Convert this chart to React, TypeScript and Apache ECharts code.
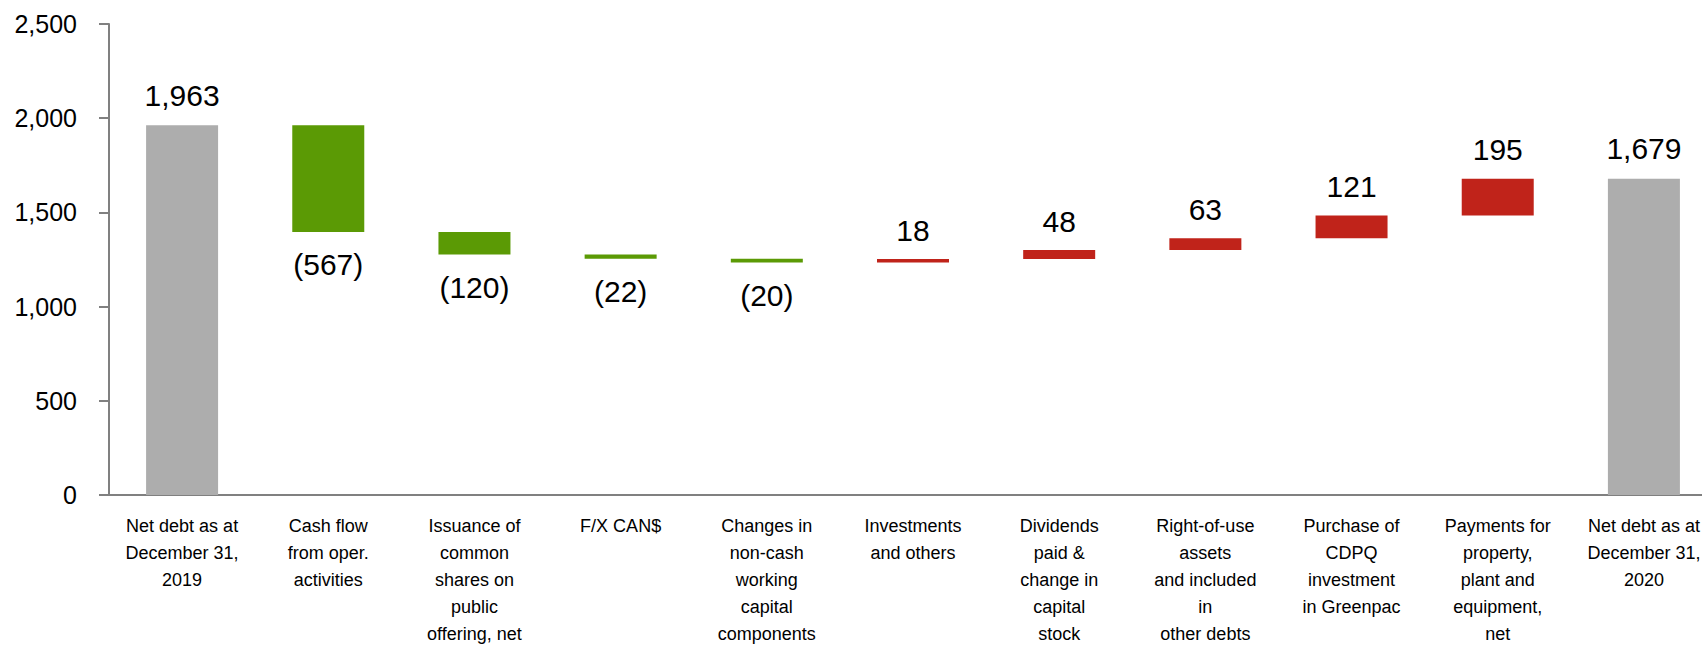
import React, { useEffect, useRef } from "react";
import * as echarts from "echarts";

const categories = [
  "Net debt as at\nDecember 31,\n2019",
  "Cash flow\nfrom oper.\nactivities",
  "Issuance of\ncommon\nshares on\npublic\noffering, net",
  "F/X CAN$",
  "Changes in\nnon-cash\nworking\ncapital\ncomponents",
  "Investments\nand others",
  "Dividends\npaid &\nchange in\ncapital\nstock",
  "Right-of-use\nassets\nand included\nin\nother debts",
  "Purchase of\nCDPQ\ninvestment\nin Greenpac",
  "Payments for\nproperty,\nplant and\nequipment,\nnet",
  "Net debt as at\nDecember 31,\n2020",
];
const values = [1963, -567, -120, -22, -20, 18, 48, 63, 121, 195, 1679];
const isTotal = [true, false, false, false, false, false, false, false, false, false, true];
const yTicks = { min: 0, max: 2500, interval: 500 };

const GRAY = "#ADADAD";
const GREEN = "#5B9A05";
const RED = "#C0231A";

function fmt(n: number): string {
  const s = Math.abs(n).toLocaleString("en-US");
  return n < 0 ? "(" + s + ")" : s;
}

export default function App() {
  const ref = useRef<HTMLDivElement>(null);
  useEffect(() => {
    document.body.style.margin = "0";
    document.body.style.overflow = "hidden";
    if (!ref.current) return;
    const chart = echarts.init(ref.current, null, { renderer: "svg" });

    const base: number[] = [];
    const heights: any[] = [];
    let running = 0;
    values.forEach((v, i) => {
      if (isTotal[i]) {
        base.push(0);
        running = v;
        heights.push({
          value: v,
          itemStyle: { color: GRAY },
          label: { position: "top", formatter: fmt(v), distance: 15 },
        });
      } else {
        const next = running + v;
        base.push(Math.min(running, next));
        heights.push({
          value: Math.abs(v),
          itemStyle: { color: v < 0 ? GREEN : RED },
          label: {
            position: v < 0 ? "bottom" : "top",
            formatter: fmt(v),
            distance: v < 0 ? 18 : 14,
          },
        });
        running = next;
      }
    });

    chart.setOption({
      animation: false,
      grid: { left: 109, top: 24, right: 0, height: 474, containLabel: false },
      xAxis: {
        type: "category",
        data: categories,
        axisLine: { show: true, lineStyle: { color: "#808080", width: 2 } },
        axisTick: { show: false },
        axisLabel: {
          interval: 0,
          color: "#000",
          fontFamily: "'Liberation Sans', Arial, sans-serif",
          fontSize: 18,
          lineHeight: 27,
          margin: 17,
          align: "center",
        },
      },
      yAxis: {
        type: "value",
        min: yTicks.min,
        max: yTicks.max,
        interval: yTicks.interval,
        splitLine: { show: false },
        axisLine: { show: true, lineStyle: { color: "#808080", width: 2 } },
        axisTick: { show: true, length: 10, lineStyle: { color: "#808080", width: 2 } },
        axisLabel: {
          color: "#000",
          fontFamily: "'Liberation Sans', Arial, sans-serif",
          fontSize: 25,
          margin: 32,
          formatter: (v: number) => v.toLocaleString("en-US"),
        },
      },
      series: [
        {
          type: "bar",
          stack: "wf",
          data: base,
          barWidth: 72,
          itemStyle: { color: "transparent" },
          emphasis: { disabled: true },
          silent: true,
        },
        {
          type: "bar",
          stack: "wf",
          data: heights,
          barWidth: 72,
          label: {
            show: true,
            color: "#000",
            fontFamily: "'Liberation Sans', Arial, sans-serif",
            fontSize: 30,
          },
        },
      ],
    });
    return () => chart.dispose();
  }, []);
  return <div ref={ref} style={{ width: 1717, height: 647 }} />;
}
